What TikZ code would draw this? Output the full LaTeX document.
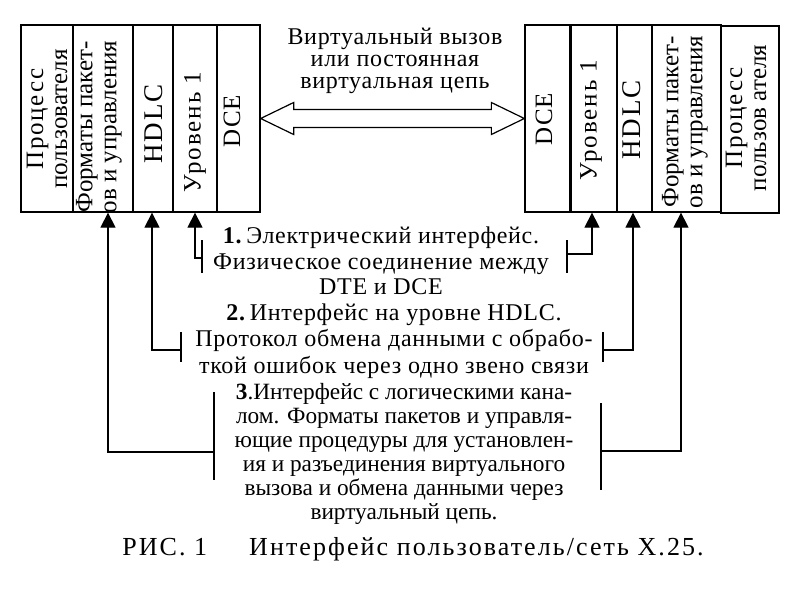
\documentclass[tikz,border=0pt]{standalone}
\usepackage{fontspec}
\setmainfont{Liberation Serif}
\usetikzlibrary{arrows.meta,calc}
\newcommand{\ls}[1]{\addfontfeature{LetterSpace=#1}}
\begin{document}
\begin{tikzpicture}[x=1pt,y=-1pt,
  colbox/.style={draw, line width=1.3pt, minimum height=187pt, inner sep=0pt, anchor=center},
  coltext/.style={rotate=90, align=center, inner sep=0pt, font=\fontsize{25}{24}\selectfont},
  para/.style={align=center, inner sep=0pt, font=\fontsize{24}{25.5}\selectfont\ls{3}},
  conn/.style={line width=1.3pt, -{Triangle[length=15pt,width=15pt]}},
  bar/.style={line width=1.3pt}
]
\useasboundingbox (0,0) rectangle (800,600);
\fill[white] (0,0) rectangle (800,600);

% left stack
\node[colbox, minimum width=52pt] (L1) at (47,118.5) {};
\node[colbox, minimum width=60pt] (L2) at (103,118.5) {};
\node[colbox, minimum width=40pt] (L3) at (153,118.5) {};
\node[colbox, minimum width=44pt] (L4) at (195,118.5) {};
\node[colbox, minimum width=43pt] (L5) at (238.5,118.5) {};
\node[coltext] (tL1) at (47,119) {{\ls{7}Процесс}\\пользователя};
\node[coltext] (tL2) at (99,127) {Форматы пакет-\\ов и управления};
\node[coltext, font=\fontsize{27}{24}\selectfont\ls{6}] (tL3) at (154,124) {HDLC};
\node[coltext, font=\fontsize{25}{24}\selectfont\ls{8}] (tL4) at (195,132) {Уровень 1};
\node[coltext, font=\fontsize{25}{24}\selectfont\ls{5}] (tL5) at (232,121) {DCE};

% right stack
\node[colbox, minimum width=46pt] (R1) at (548,118.5) {};
\node[colbox, minimum width=46pt] (R2) at (594,118.5) {};
\node[colbox, minimum width=35pt] (R3) at (634.5,118.5) {};
\node[colbox, minimum width=69pt] (R4) at (686.5,118.5) {};
\node[colbox, minimum width=58pt] (R5) at (750,119.5) {};
\draw[line width=2.6pt] (R2.north west) -- (R2.south west);
\node[coltext, font=\fontsize{25}{24}\selectfont\ls{5}] (tR1) at (544,119) {DCE};
\node[coltext, font=\fontsize{25}{24}\selectfont\ls{8}] (tR2) at (591,120) {Уровень 1};
\node[coltext, font=\fontsize{27}{24}\selectfont\ls{6}] (tR3) at (632,120) {HDLC};
\node[coltext] (tR4) at (685,122) {Форматы пакет-\\ов и управления};
\node[coltext] (tR5) at (746,118) {{\ls{7}Процесс}\\пользов ателя};

% double arrow between the stacks
\draw[line width=1.2pt, fill=white] (L5.east) -- ++(33,-16) -- ++(0,7)
  -- ($(R1.west)+(-33,-9)$) -- ++(0,-7) -- (R1.west) -- ++(-33,16) -- ++(0,-7)
  -- ($(L5.east)+(33,9)$) -- ++(0,7) -- cycle;
\node[para, font=\fontsize{24}{22}\selectfont\ls{3}] (t0) at (395,60.5)
  {Виртуальный вызов\\или постоянная\\виртуальная цепь};

% explanation texts
\node[para] (t1) at (381,261)
  {\textbf{1.}\,Электрический интерфейс.\\Физическое соединение между\\DTE и DCE};
\node[para, font=\fontsize{24}{26.5}\selectfont\ls{3}] (t2) at (394,341)
  {\textbf{2.}\,Интерфейс на уровне HDLC.\\Протокол обмена данными с обрабо-\\ткой ошибок через одно звено связи};
\node[para, font=\fontsize{23.3}{24}\selectfont] (t3) at (404,454)
  {\textbf{3}.Интерфейс с логическими кана-\\лом. Форматы пакетов и управля-\\ющие процедуры для установлен-\\ия и разъединения виртуального\\вызова и обмена данными через\\виртуальный цепь.};

% brackets and connectors
\coordinate (b1lt) at (202,240); \coordinate (b1lb) at (202,273); \coordinate (b1l) at (202,258);
\coordinate (b1rt) at (567,240); \coordinate (b1rb) at (567,273); \coordinate (b1r) at (567,254);
\coordinate (b2lt) at (181,332); \coordinate (b2lb) at (181,362); \coordinate (b2l) at (181,350);
\coordinate (b2rt) at (603,332); \coordinate (b2rb) at (603,362); \coordinate (b2r) at (603,350);
\coordinate (b3lt) at (214,392); \coordinate (b3lb) at (214,480); \coordinate (b3l) at (214,452);
\coordinate (b3rt) at (601,403); \coordinate (b3rb) at (601,490); \coordinate (b3r) at (601,451);
\foreach \b in {b1l,b1r,b2l,b2r,b3l,b3r} \draw[bar] (\b t) -- (\b b);
\draw[conn] (b1l) -| (L4.south);
\draw[conn] (b1r) -| ([xshift=-2pt]R2.south);
\draw[conn] (b2l) -| ([xshift=-1pt]L3.south);
\draw[conn] (b2r) -| ([xshift=-1.5pt]R3.south);
\draw[conn] (b3l) -| ([xshift=5pt]L2.south);
\draw[conn] (b3r) -| ([xshift=-5.5pt]R4.south);

% caption
\node[inner sep=0pt, font=\fontsize{26}{26}\selectfont\ls{8}] (cap) at (413,549)
  {РИС. 1\hspace{42pt}Интерфейс пользователь/сеть X.25.};
\end{tikzpicture}
\end{document}
